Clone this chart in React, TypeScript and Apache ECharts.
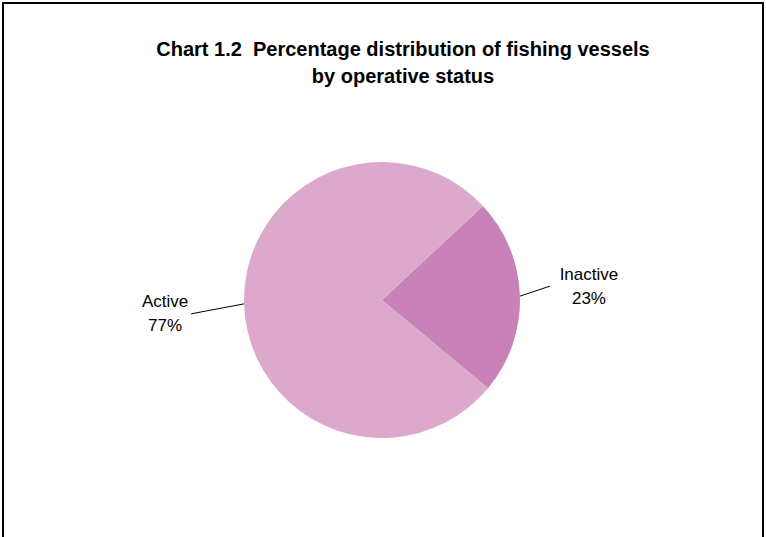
import React, { useEffect, useRef } from "react";
import * as echarts from "echarts";

const titleLines = ["Chart 1.2  Percentage distribution of fishing vessels", "by operative status"];
const categories = ["Inactive", "Active"];
const values = [23, 77];
const colors = ["#C982B9", "#DCA9CD"];

export default function App() {
  const ref = useRef<HTMLDivElement>(null);
  useEffect(() => {
    const chart = echarts.init(ref.current!, null, { renderer: "svg" });
    const lineOffsets = [
      [30, -10],
      [-53, 10],
    ];
    const labelOffsets = [39, -26];
    chart.setOption({
      animation: false,
      backgroundColor: "#ffffff",
      title: {
        text: titleLines.join("\n"),
        left: 398,
        top: 30,
        textAlign: "center",
        textStyle: {
          fontFamily: "Liberation Sans, Arial, sans-serif",
          fontSize: 20,
          fontWeight: "bold",
          color: "#000",
          lineHeight: 27,
        },
      },
      graphic: [
        {
          type: "polyline",
          silent: true,
          shape: { points: [[3, 545], [3, 3], [763, 3], [763, 545]] },
          style: { stroke: "#000", lineWidth: 2, fill: "none" },
        },
      ],
      series: [
        {
          type: "pie",
          center: [382, 300],
          radius: 138,
          startAngle: 43,
          clockwise: true,
          silent: true,
          data: categories.map((c, i) => ({
            name: c,
            value: values[i],
            itemStyle: { color: colors[i] },
          })),
          label: {
            show: true,
            position: "outside",
            formatter: "{b}\n{c}%",
            fontFamily: "Liberation Sans, Arial, sans-serif",
            fontSize: 17,
            lineHeight: 24,
            color: "#000",
            align: "center",
          },
          labelLine: {
            show: true,
            length: 20,
            length2: 10,
            lineStyle: { color: "#000", width: 1 },
          },
          labelLayout: (params: any) => {
            const i = params.dataIndex;
            const pts = params.labelLinePoints;
            const start = pts && pts[0] ? pts[0] : [0, 0];
            const end = [start[0] + lineOffsets[i][0], start[1] + lineOffsets[i][1]];
            return {
              x: end[0] + labelOffsets[i],
              y: end[1],
              align: "center",
              verticalAlign: "middle",
              labelLinePoints: [start, end, end],
            };
          },
        },
      ],
    });
    return () => chart.dispose();
  }, []);
  return (
    <div
      ref={ref}
      style={{ position: "fixed", left: 0, top: 0, width: 766, height: 537 }}
    />
  );
}
